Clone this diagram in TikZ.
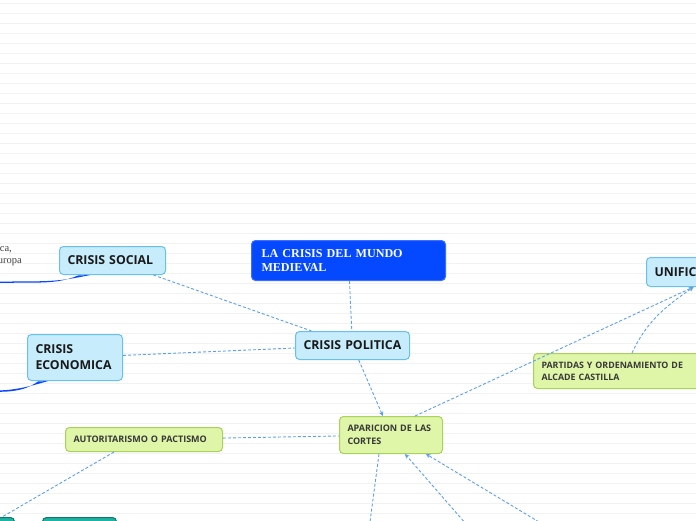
\documentclass[tikz,border=0pt]{standalone}
\usepackage{fontspec}
\setmainfont{Liberation Serif}
\setsansfont{Open Sans}
\usetikzlibrary{arrows.meta, calc}
\usepackage{xcolor}
\definecolor{nodeBlue}{RGB}{199,236,251}
\definecolor{nodeBlueLine}{RGB}{104,193,236}
\definecolor{titleBlue}{RGB}{4,72,255}
\definecolor{titleBlueLine}{RGB}{60,110,255}
\definecolor{nodeGreen}{RGB}{223,245,167}
\definecolor{nodeGreenLine}{RGB}{168,210,90}
\definecolor{nodeTeal}{RGB}{30,178,162}
\definecolor{nodeTealLine}{RGB}{18,118,108}
\definecolor{linkBlue}{RGB}{92,160,232}
\definecolor{branchBlue}{RGB}{8,70,255}
\definecolor{paperLine}{RGB}{242,242,242}

\begin{document}
\begin{tikzpicture}[
    x=1pt, y=-1pt,
    topic/.style={
        rectangle,
        draw=nodeBlueLine,
        fill=nodeBlue,
        line width=1pt,
        rounded corners=4pt,
        anchor=north west,
        inner xsep=8pt,
        inner ysep=0pt,
        align=left,
        text=black!90,
        font=\sffamily\bfseries\fontsize{12.3}{16}\selectfont
    },
    title/.style={topic, draw=titleBlueLine, fill=titleBlue, inner xsep=10pt, text=white,
        font=\rmfamily\bfseries\fontsize{12.1}{14}\selectfont},
    subtopic/.style={topic, draw=nodeGreenLine, fill=nodeGreen, text=black!78,
        font=\sffamily\bfseries\fontsize{9}{13}\selectfont},
    tealbox/.style={topic, draw=nodeTealLine, fill=nodeTeal},
    leafText/.style={inner sep=0pt, anchor=base east, text=black!75,
        font=\rmfamily\fontsize{10.5}{12}\selectfont},
    link/.style={linkBlue, line width=0.9pt, dash pattern=on 3pt off 2pt},
    linkArrow/.style={link, -{Stealth[length=4.5pt, width=4.5pt]}},
    branch/.style={fill=branchBlue}
]
    \useasboundingbox (0,0) rectangle (696,520);
    \clip (0,0) rectangle (696,520);

    % Paper lines
    \foreach \y in {3,13,...,513}
        \draw[paperLine, line width=0.8pt] (0,\y) -- (696,\y);

    % Main nodes
    \node[title, minimum height=40pt, text width=174pt] (medieval) at (251,240) {LA CRISIS DEL MUNDO\\MEDIEVAL};
    \node[topic, minimum height=28pt, text width=90pt] (social) at (59,246) {CRISIS SOCIAL};
    \node[topic, minimum height=46pt, text width=79pt] (economica) at (27,334) {CRISIS\\ECONOMICA};
    \node[topic, minimum height=28pt, text width=98pt] (politica) at (295,331) {CRISIS POLITICA};
    \node[topic, minimum height=29pt, text width=78pt] (unific) at (646,257) {UNIFIC};

    % Green nodes
    \node[subtopic, minimum height=35pt, text width=160pt, font=\sffamily\bfseries\fontsize{8.85}{12}\selectfont] (partidas) at (533,353) {PARTIDAS Y ORDENAMIENTO DE\\ALCADE CASTILLA};
    \node[subtopic, minimum height=37pt, text width=87pt] (aparicion) at (339,416) {APARICION DE LAS\\CORTES};
    \node[subtopic, minimum height=24pt, text width=141pt] (autoritarismo) at (65,427) {AUTORITARISMO O PACTISMO};

    % Teal nodes at the bottom edge
    \node[tealbox, anchor=north east, minimum height=30pt, text width=54pt] (tealA) at (15,517) {};
    \node[tealbox, minimum height=30pt, text width=58pt] (tealB) at (42,517) {};

    % Leaf texts on the left edge
    \node[leafText] (socialLeafA) at (12,251) {ca,};
    \node[leafText] (socialLeafB) at (22,263) {uropa};

    % Free ends below the picture
    \coordinate (downA) at (367.6,540);
    \coordinate (downB) at (480,540);
    \coordinate (downC) at (569,540);
    \coordinate (leftA) at (-20,281.8);
    \coordinate (leftB) at (-20,391);

    % Thick branches
    \fill[branch] ($(social.south west)+(31,0)$) .. controls (65,280.5) and (50,281.3) .. (33,281.3)
        -- (leftA) -- ++(0,1.2) -- (33,282.6) .. controls (55,282.6) and (66,280.5) .. ($(social.south west)+(19,0.5)$) -- cycle;
    \fill[branch] ($(economica.south west)+(21,0)$) .. controls (30,386.5) and (15,390) .. (0,390.4)
        -- (leftB) -- ++(0,1.3) -- (0,391.8) .. controls (18,391.5) and (28,388.5) .. ($(economica.south west)+(11,0.5)$) -- cycle;

    % Dashed links
    \draw[link] (social) -- (politica);
    \draw[link] (economica) -- (politica);
    \draw[link] (medieval) -- (politica);
    \draw[linkArrow] (politica) -- (aparicion);
    \draw[link] (autoritarismo) -- (aparicion);
    \draw[linkArrow] ([xshift=24pt]aparicion.north) -- (unific.south);
    \draw[linkArrow] ([xshift=99pt]partidas.north west) to[out=65, in=-145] (unific.south);
    \draw[link] ([xshift=-30pt]autoritarismo.south) -- ([xshift=-13pt]tealA.north east);
    \draw[link] ([xshift=-12pt]aparicion.south) -- (downA);
    \draw[linkArrow] (downB) -- ([xshift=14pt]aparicion.south);
    \draw[linkArrow] (downC) -- ([xshift=35pt]aparicion.south);
\end{tikzpicture}
\end{document}
